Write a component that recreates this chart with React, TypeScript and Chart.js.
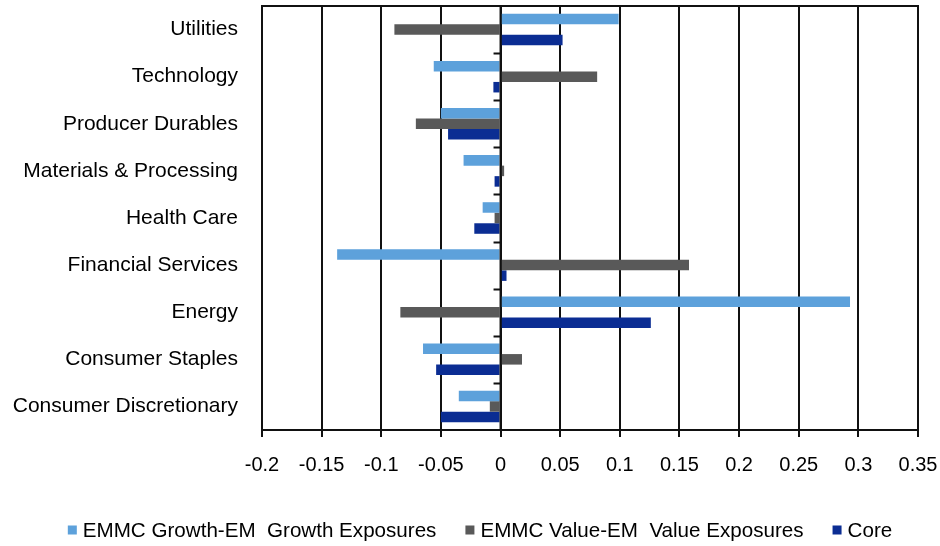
import React, { useEffect, useRef } from "react";
import { Chart, registerables } from "chart.js";

Chart.register(...registerables);

const categories = [
  "Utilities",
  "Technology",
  "Producer Durables",
  "Materials & Processing",
  "Health Care",
  "Financial Services",
  "Energy",
  "Consumer Staples",
  "Consumer Discretionary",
];
const growthExposures = [0.099, -0.056, -0.05, -0.031, -0.015, -0.137, 0.293, -0.065, -0.035];
const valueExposures = [-0.089, 0.081, -0.071, 0.003, -0.005, 0.158, -0.084, 0.018, -0.009];
const coreExposures = [0.052, -0.006, -0.044, -0.005, -0.022, 0.005, 0.126, -0.054, -0.05];
const seriesLabels = [
  "EMMC Growth-EM  Growth Exposures",
  "EMMC Value-EM  Value Exposures",
  "Core",
];
const seriesColors = ["#5DA1DB", "#595959", "#0B2D93"];
const xMin = -0.2;
const xMax = 0.35;
const xStep = 0.05;

const FONT = "'Liberation Sans', Arial, sans-serif";

const framePlugin = {
  id: "frame",
  afterDatasetsDraw(chart: any) {
    const { ctx, chartArea, scales } = chart;
    ctx.save();
    ctx.strokeStyle = "#111";
    ctx.lineWidth = 2;
    ctx.beginPath();
    ctx.moveTo(chartArea.left - 1, chartArea.top);
    ctx.lineTo(chartArea.right + 1, chartArea.top);
    ctx.stroke();
    // small ticks on zero line between categories
    const x0 = scales.x.getPixelForValue(0);
    const y = scales.y;
    ctx.beginPath();
    for (let i = 0; i < categories.length - 1; i++) {
      const yy = Math.round((y.getPixelForValue(i) + y.getPixelForValue(i + 1)) / 2) + 0.5;
      ctx.moveTo(x0 - 7, yy);
      ctx.lineTo(x0, yy);
    }
    ctx.stroke();
    // zero line
    ctx.beginPath();
    ctx.moveTo(x0, chartArea.top);
    ctx.lineTo(x0, chartArea.bottom);
    ctx.stroke();
    ctx.restore();
  },
};

const legendPlugin = {
  id: "customLegend",
  afterDraw(chart: any) {
    const { ctx } = chart;
    ctx.save();
    ctx.font = `20.6px ${FONT}`;
    ctx.textBaseline = "middle";
    const box = 9;
    const boxGap = 6;
    const itemGap = 29;
    const widths = seriesLabels.map((l) => box + boxGap + ctx.measureText(l).width);
    const total = widths.reduce((a, b) => a + b, 0) + itemGap * (widths.length - 1);
    let x = 480 - total / 2;
    const yc = 531;
    seriesLabels.forEach((label, i) => {
      ctx.fillStyle = seriesColors[i];
      ctx.fillRect(x, yc - box / 2 - 1, box, box);
      ctx.fillStyle = "#000";
      ctx.textAlign = "left";
      ctx.fillText(label, x + box + boxGap, yc);
      x += widths[i] + itemGap;
    });
    ctx.restore();
  },
};

export default function App() {
  const canvasRef = useRef<HTMLCanvasElement | null>(null);

  useEffect(() => {
    document.body.style.margin = "0";
    const canvas = canvasRef.current;
    if (!canvas) return;
    const chart = new Chart(canvas, {
      type: "bar",
      data: {
        labels: categories,
        datasets: [
          { label: seriesLabels[0], data: growthExposures, backgroundColor: seriesColors[0] },
          { label: seriesLabels[1], data: valueExposures, backgroundColor: seriesColors[1] },
          { label: seriesLabels[2], data: coreExposures, backgroundColor: seriesColors[2] },
        ],
      },
      options: {
        indexAxis: "y",
        animation: false,
        responsive: true,
        maintainAspectRatio: false,
        datasets: {
          bar: { categoryPercentage: 0.67, barPercentage: 1.0 },
        },
        layout: { padding: { top: 6, right: 22, bottom: 56, left: 0 } },
        plugins: {
          legend: { display: false },
          tooltip: { enabled: false },
        },
        scales: {
          x: {
            type: "linear",
            min: xMin,
            max: xMax,
            ticks: {
              stepSize: xStep,
              color: "#000",
              font: { family: FONT, size: 20 },
              padding: 16,
              maxRotation: 0,
              autoSkip: false,
              callback: (v: any) => String(Math.round(Number(v) * 100) / 100),
            },
            grid: {
              color: "#111",
              lineWidth: 2,
              drawTicks: true,
              tickLength: 7,
              tickColor: "#111",
            },
            border: { display: true, color: "#111", width: 2 },
            afterFit: (s: any) => {
              s.height = 60;
              s.paddingLeft = 0;
              s.paddingRight = 0;
            },
          },
          y: {
            type: "category",
            ticks: {
              color: "#000",
              font: { family: FONT, size: 21 },
              padding: 24,
              autoSkip: false,
            },
            grid: { display: false, drawTicks: false, tickLength: 0 },
            border: { display: false },
            afterFit: (s: any) => {
              s.width = 262;
              s.paddingTop = 0;
              s.paddingBottom = 0;
            },
          },
        },
      },
      plugins: [framePlugin, legendPlugin],
    });
    return () => chart.destroy();
  }, []);

  return (
    <div style={{ position: "absolute", left: 0, top: 0, width: 940, height: 546 }}>
      <canvas ref={canvasRef} />
    </div>
  );
}
